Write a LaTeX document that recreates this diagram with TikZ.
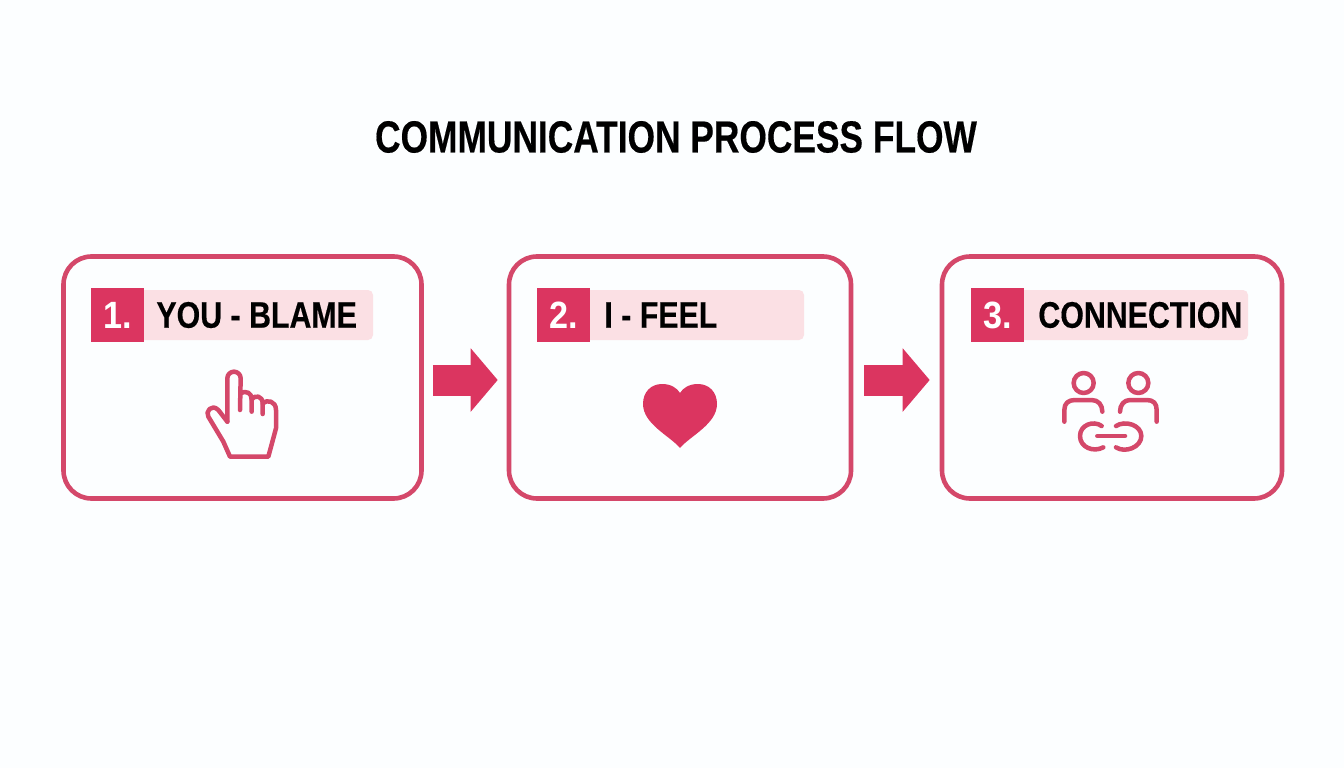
\documentclass[tikz,border=0pt]{standalone}
\usepackage{fontspec}
\setmainfont[FakeStretch=0.82, BoldFeatures={FakeBold=0.35}]{Liberation Sans}
\newfontfamily\numfont[FakeStretch=0.9]{Liberation Sans Bold}
\newfontfamily\titlefont[FakeStretch=0.785, FakeBold=0.35]{Liberation Sans Bold}
\usetikzlibrary{positioning,arrows.meta}
\definecolor{rosedge}{HTML}{D4486A}
\definecolor{rosfill}{HTML}{DB3560}
\definecolor{rospale}{HTML}{FBE0E4}
\tikzset{
  stepbox/.style={draw=rosedge, line width=4.6pt, rounded corners=28pt, minimum height=242pt},
  stepbar/.style={fill=rospale, rounded corners=5pt, minimum height=50pt},
  stepnum/.style={fill=rosfill, text=white, minimum width=53pt, minimum height=54pt, inner sep=0pt, font=\numfont\fontsize{38}{38}\selectfont},
  steptext/.style={inner sep=0pt, text=black, font=\bfseries\fontsize{37}{37}\selectfont},
  steparrow/.style={draw=rosfill, line width=31pt, -{Triangle[length=27pt,width=62pt]}},
  iconline/.style={draw=rosedge, line width=4.5pt, line cap=round, line join=round}
}
\begin{document}
\begin{tikzpicture}[x=1pt, y=-1pt]
\useasboundingbox[fill=white!99!cyan] (0,0) rectangle (1344,768);
\node[inner sep=0pt, font=\titlefont\fontsize{45}{45}\selectfont] (title) at (676,137) {COMMUNICATION PROCESS FLOW};
% boxes
\node[stepbox, minimum width=358pt] (box1) at (242.5,377.5) {};
\node[stepbox, minimum width=342pt] (box2) at (680,377.5) {};
\node[stepbox, minimum width=340pt] (box3) at (1112,377.5) {};
% headers
\node[stepbar, minimum width=258pt] (bar1) at (244,315) {};
\node[stepnum] (num1) at (117.5,315) {1.};
\node[steptext, right=12pt of num1] (txt1) {YOU - BLAME};
\node[stepbar, minimum width=258pt] (bar2) at (675,315) {};
\node[stepnum] (num2) at (563.5,315) {2.};
\node[steptext, right=14pt of num2] (txt2) {I - FEEL};
\node[stepbar, minimum width=258pt] (bar3) at (1119,315) {};
\node[stepnum] (num3) at (997.5,315) {3.};
\node[steptext, right=14pt of num3] (txt3) {CONNECTION};
% arrows
\draw[steparrow, shorten <=9pt, shorten >=9pt] ([yshift=-2.5pt]box1.east) -- ([yshift=-2.5pt]box2.west);
\draw[steparrow, shorten <=11pt, shorten >=10pt] ([yshift=-2.5pt]box2.east) -- ([yshift=-2.5pt]box3.west);
% hand
\begin{scope}[shift={(190,360)}, scale=1/3]
\draw[iconline] (112,185) -- (112,55) arc[start angle=180, end angle=0, x radius=20, y radius=-20] -- (150,150);
\draw[iconline] (152,100) .. controls (170,90) and (185,100) .. (185,118) -- (185,155);
\draw[iconline] (185,118) .. controls (195,103) and (218,108) .. (218,130) -- (218,162);
\draw[iconline] (218,130) .. controls (230,118) and (258,122) .. (258,150) -- (258,205) -- (235,290) -- (120,290) -- (100,245) -- (55,170) .. controls (45,155) and (65,130) .. (85,150) -- (112,185);
\end{scope}
% heart
\fill[rosfill] (680,448) .. controls (670,436) and (643,424) .. (643,404) .. controls (643,392) and (651,384) .. (662,384) .. controls (671,384) and (677,388) .. (680,393) .. controls (683,388) and (689,384) .. (698,384) .. controls (709,384) and (717,392) .. (717,404) .. controls (717,424) and (690,436) .. (680,448) -- cycle;
% people and link
\begin{scope}[shift={(1040,360)}, scale=1/3]
\draw[iconline] (131,69) circle[radius=30pt];
\draw[iconline] (295,69) circle[radius=30pt];
\draw[iconline] (73,185) -- (73,150) .. controls (73,130) and (85,120) .. (105,120) -- (155,120) .. controls (175,120) and (187,135) .. (187,155);
\draw[iconline] (240,155) .. controls (240,135) and (252,120) .. (270,120) -- (320,120) .. controls (340,120) and (350,130) .. (350,150) -- (350,185);
\draw[iconline] (185,198) .. controls (160,180) and (120,195) .. (120,228) .. controls (120,262) and (160,278) .. (190,262);
\draw[iconline] (228,198) .. controls (255,180) and (304,195) .. (304,228) .. controls (304,262) and (255,280) .. (228,262);
\draw[iconline] (172,228) -- (255,228);
\end{scope}
\end{tikzpicture}
\end{document}
